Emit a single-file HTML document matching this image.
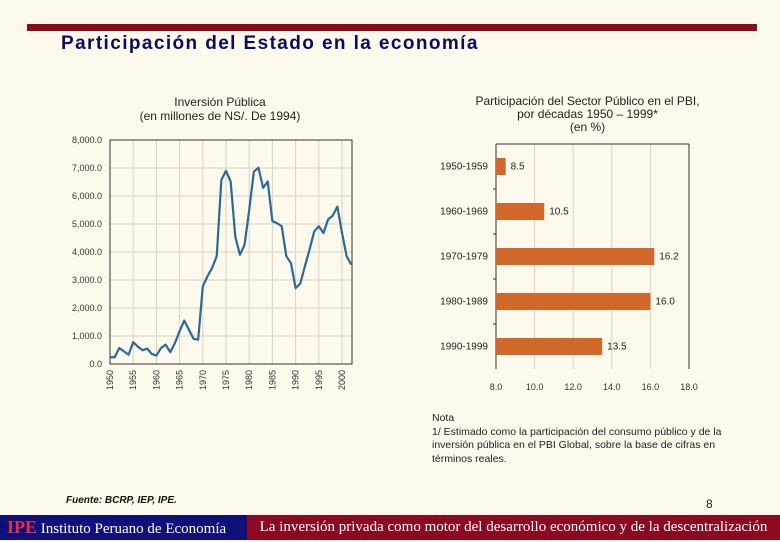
<!DOCTYPE html>
<html><head><meta charset="utf-8"><style>
body{margin:0;width:780px;height:540px;background:#fdf9ec;position:relative;overflow:hidden;font-family:"Liberation Sans",sans-serif}
.abs{position:absolute}
</style></head><body>
<div class="abs" style="left:27px;top:24px;width:730px;height:7px;background:#8b0a22"></div>
<div class="abs" style="left:61px;top:33px;font-size:19px;font-weight:bold;color:#0c0c5a;letter-spacing:1.4px">Participación del Estado en la economía</div>
<div class="abs" style="left:100px;top:95px;width:240px;text-align:center;font-size:12px;line-height:14px;color:#222">Inversión Pública<br>(en millones de NS/. De 1994)</div>
<div class="abs" style="left:440px;top:95px;width:295px;text-align:center;font-size:12px;line-height:13px;color:#222">Participación del Sector Público en el PBI,<br>por décadas 1950 – 1999*<br>(en %)</div>
<svg class="abs" style="left:0;top:0" width="780" height="540" id="svg"></svg>
<div class="abs" style="left:432px;top:412px;width:312px;font-size:10.5px;line-height:13.5px;color:#222">Nota<br>1/ Estimado como la participación del consumo público y de la inversión pública en el PBI Global, sobre la base de cifras en términos reales.</div>
<div class="abs" style="left:66px;top:495px;font-size:10px;font-style:italic;font-weight:bold;color:#111">Fuente: BCRP, IEP, IPE.</div>
<div class="abs" style="left:706px;top:497px;font-size:12px;color:#222">8</div>
<div class="abs" style="left:0;top:515px;width:247px;height:25px;background:#10107a;color:#fff;font-family:'Liberation Serif',serif;font-size:15px;line-height:25px;padding-left:7px;box-sizing:border-box"><span style="color:#e8303a;font-size:18px;font-weight:bold">IPE</span> Instituto Peruano de Economía</div>
<div class="abs" style="left:247px;top:515px;width:533px;height:25px;background:#8b0a22;color:#fff;font-family:'Liberation Serif',serif;font-size:15px;line-height:25px;text-align:center">La inversión privada como motor del desarrollo económico y de la descentralización</div>
<script>
const years=[];for(let y=1950;y<=2002;y++)years.push(y);
const invest=[240,240,570,450,330,780,620,490,550,360,300,570,690,420,750,1170,1550,1230,900,870,2770,3130,3430,3850,6570,6900,6520,4550,3900,4260,5500,6870,7010,6290,6520,5100,5030,4920,3850,3600,2710,2870,3490,4080,4730,4920,4680,5160,5300,5620,4680,3850,3550];
const yTicks=[0,1000,2000,3000,4000,5000,6000,7000,8000];
const xTicks=[1950,1955,1960,1965,1970,1975,1980,1985,1990,1995,2000];
const decades=["1950-1959","1960-1969","1970-1979","1980-1989","1990-1999"];
const shares=[8.5,10.5,16.2,16.0,13.5];
const shareTicks=[8,10,12,14,16,18];
const NS='http://www.w3.org/2000/svg';const svg=document.getElementById('svg');
function mk(t,a,txt){const e=document.createElementNS(NS,t);for(const k in a)e.setAttribute(k,a[k]);if(txt!=null)e.textContent=txt;svg.appendChild(e);return e;}
const L=110,R=352,T=140,B=364;
const xs=y=>L+(y-1950)*(342-110)/50, ys=v=>B-v*(B-T)/8000;
let e=mk('rect',{x:L,y:T,width:R-L,height:B-T,fill:'#fdf9ec',stroke:'#333','stroke-width':1});

yTicks.forEach(v=>{const g=mk('line',{x1:L,x2:R,y1:ys(v),y2:ys(v),stroke:'#d8d2c0','stroke-width':1});

const t=mk('text',{x:L-8,y:ys(v)+3,'text-anchor':'end','font-size':9,fill:'#333'},v.toLocaleString('en-US',{minimumFractionDigits:1}));
});
xTicks.forEach(y=>{const g=mk('line',{x1:xs(y),x2:xs(y),y1:T,y2:B,stroke:'#d8d2c0','stroke-width':1});

const t=mk('text',{x:0,y:0,'text-anchor':'end','font-size':9,fill:'#333',transform:`translate(${xs(y)+3},${B+6}) rotate(-90)`},y);
});
e=mk('rect',{x:L,y:T,width:R-L,height:B-T,fill:'none',stroke:'#333','stroke-width':1});

const p=mk('polyline',{points:invest.map((v,i)=>xs(years[i])+','+ys(v)).join(' '),fill:'none',stroke:'#2a6a96','stroke-width':2.2,'stroke-linejoin':'round'});

const RL=496,RR=689,RT=144,RB=369;
const bx=v=>RL+(v-8)*(RR-RL)/10;const rowH=(RB-RT)/5;
shareTicks.forEach(v=>{if(v>8){const g=mk('line',{x1:bx(v),x2:bx(v),y1:RT,y2:RB,stroke:'#d8d2c0','stroke-width':1});
}
const t=mk('text',{x:bx(v),y:RB+21,'text-anchor':'middle','font-size':9,fill:'#333'},v.toFixed(1));
});
e=mk('line',{x1:RL,x2:RL,y1:RT,y2:RB,stroke:'#333'});
e=mk('line',{x1:RR,x2:RR,y1:RT,y2:RB,stroke:'#333'});
e=mk('line',{x1:RL,x2:RR,y1:RT,y2:RT,stroke:'#333'});
decades.forEach((d,i)=>{const cy=RT+rowH*(i+0.5);
if(i>0){const tk=mk('line',{x1:RL-3,x2:RL,y1:RT+rowH*i,y2:RT+rowH*i,stroke:'#333'});}
const r=mk('rect',{x:RL,y:cy-8.5,width:bx(shares[i])-RL,height:17,fill:'#d2672a'});

const l=mk('text',{x:RL-8,y:cy+3,'text-anchor':'end','font-size':10,fill:'#222'},d);

const v=mk('text',{x:bx(shares[i])+5,y:cy+3,'font-size':10,fill:'#222'},shares[i].toFixed(1));
});
</script>
</body></html>
